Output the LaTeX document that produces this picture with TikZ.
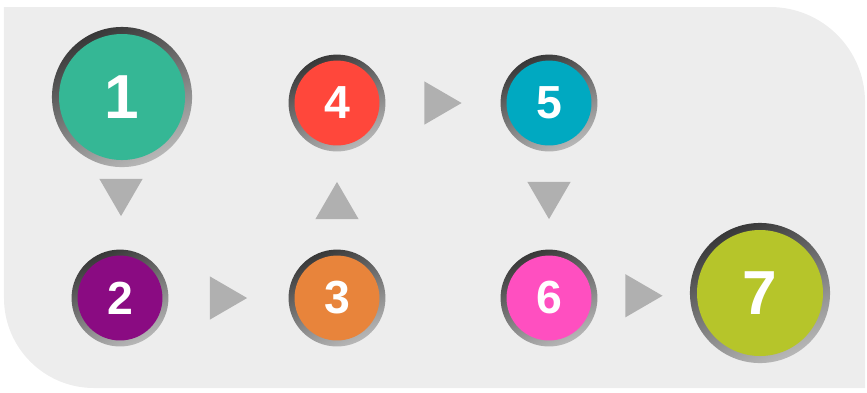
\documentclass[tikz,border=0pt]{standalone}
\usepackage{fontspec}
\setmainfont{Liberation Sans}
\usetikzlibrary{calc}

\definecolor{bggray}{HTML}{EDEDED}
\definecolor{trigray}{HTML}{B0B0B0}
\definecolor{stepgreen}{HTML}{35B795}
\definecolor{steppurple}{HTML}{8A0B82}
\definecolor{steporange}{HTML}{E8843B}
\definecolor{stepred}{HTML}{FF473B}
\definecolor{stepteal}{HTML}{00A9C1}
\definecolor{steppink}{HTML}{FF4FC0}
\definecolor{steplime}{HTML}{B6C52A}

\tikzset{
  rim/.style={circle, inner sep=0pt, shading=axis, top color=black!78,
    bottom color=black!28, shading angle=25},
  ball/.style={circle, inner sep=0pt, fill=#1, text=white,
    font=\bfseries\fontsize{44}{44}\selectfont},
  bigball/.style={ball=#1, font=\bfseries\fontsize{59}{59}\selectfont},
  tri/.style={fill=trigray}
}

% triangle between two steps: from, to, ratio, angle
\newcommand{\steptri}[4]{%
  \fill[tri, shift={($(#1)!#3!(#2)$)}, rotate=#4]
    (0.62,0) -- (-0.62,0.72) -- (-0.62,-0.72) -- cycle;}

\begin{document}
\begin{tikzpicture}

    \useasboundingbox (0,0) rectangle (28.9,13.067);

    % Background panel
    \fill[bggray] (0.133,12.833) -- (25.667,12.833) arc (90:0:3.167)
        -- (28.833,0.133) -- (3.133,0.133) arc (270:180:3) -- cycle;

    % Steps
    \node[rim, minimum size=4.67cm] (n1) at (4.067,9.833) {};
    \node[bigball=stepgreen, minimum size=4.2cm] (n1i) at (n1) {1};

    \node[rim, minimum size=3.23cm] (n2) at (4.0,3.133) {};
    \node[ball=steppurple, minimum size=2.83cm] (n2i) at (n2) {2};

    \node[rim, minimum size=3.23cm] (n3) at (11.233,3.133) {};
    \node[ball=steporange, minimum size=2.83cm] (n3i) at (n3) {3};

    \node[rim, minimum size=3.23cm] (n4) at (11.233,9.633) {};
    \node[ball=stepred, minimum size=2.83cm] (n4i) at (n4) {4};

    \node[rim, minimum size=3.23cm] (n5) at (18.3,9.633) {};
    \node[ball=stepteal, minimum size=2.83cm] (n5i) at (n5) {5};

    \node[rim, minimum size=3.23cm] (n6) at (18.3,3.133) {};
    \node[ball=steppink, minimum size=2.83cm] (n6i) at (n6) {6};

    \node[rim, minimum size=4.67cm] (n7) at (25.333,3.3) {};
    \node[bigball=steplime, minimum size=4.2cm] (n7i) at (n7) {7};

    % Triangles
    \steptri{n1}{n2}{0.5}{-90}
    \steptri{n2}{n3}{0.5}{0}
    \steptri{n3}{n4}{0.5}{90}
    \steptri{n4}{n5}{0.5}{0}
    \steptri{n5}{n6}{0.5}{-90}
    \steptri{n6}{n7}{0.45}{0}

\end{tikzpicture}
\end{document}
